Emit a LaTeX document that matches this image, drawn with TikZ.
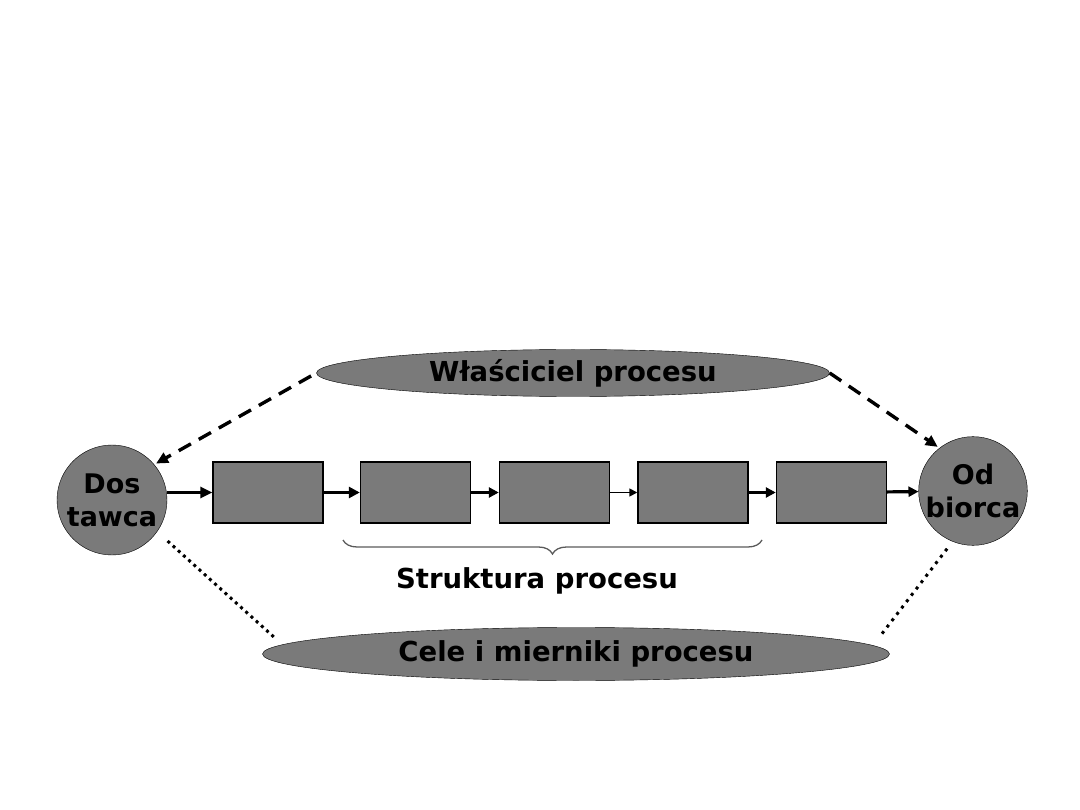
\documentclass[tikz,border=0pt]{standalone}
\usepackage{fontspec}
\setmainfont{DejaVu Sans}
\usepackage{tikz}
\usetikzlibrary{arrows.meta, calc, shapes.geometric, decorations.pathreplacing}
\definecolor{szary}{RGB}{122,122,122}
\definecolor{tinta}{RGB}{0,0,0}
\definecolor{klamra}{RGB}{90,90,90}

\begin{document}
\begin{tikzpicture}[x=1pt, y=-1pt, >={Triangle[length=12pt, width=11pt]},
  font=\fontsize{27.5}{33}\selectfont\bfseries, text=tinta,
  owal/.style={ellipse, draw, thin, fill=szary, inner sep=0pt},
  kolo/.style={circle, draw, thin, fill=szary, minimum size=110pt, inner sep=0pt, align=center,
    font=\fontsize{27}{33}\selectfont\bfseries},
  krok/.style={draw, fill=szary, line width=1.4pt, minimum width=110pt, minimum height=61pt},
  kropki/.style={line width=3pt, dash pattern=on 3pt off 4pt}]
  \useasboundingbox (0,0) rectangle (1080,810);
  \node[owal, minimum width=513pt, minimum height=47pt] (owner) at (573,373) {Właściciel procesu};
  \node[owal, minimum width=627pt, minimum height=53pt] (goals) at (576,654) {Cele i mierniki procesu};
  \node[kolo] (supplier) at (112,500) {Dos\\tawca};
  \node[kolo, minimum size=106pt] (customer) at (973,491) {Od\\biorca};
  \foreach \n/\x in {1/268, 2/415.5, 3/554.5, 4/693, 5/831.5}
    \node[krok] (p\n) at (\x,492.5) {};
  \draw[->, line width=3.6pt] (supplier.east |- p1.west) -- (p1.west);
  \foreach \a/\b/\w/\h in {p1/p2/3.6/11, p2/p3/3/10, p3/p4/1.6/8, p4/p5/3.2/10}
    \draw[->, line width=\w pt, >={Triangle[length=\h pt, width=\h pt]}] (\a) -- (\b);
  \draw[->, line width=3.2pt, >={Triangle[length=10pt, width=10pt]}] (p5) -- (customer);
  \draw[->, line width=3.4pt, dash pattern=on 14pt off 9pt, shorten <=6pt, shorten >=2pt] (owner.west) -- (supplier.40);
  \draw[->, line width=3.4pt, dash pattern=on 14pt off 9pt, shorten >=2pt] (owner.east) -- (customer.128);
  \coordinate (dotL) at (275,638);
  \coordinate (dotR) at (881,635);
  \draw[kropki, shorten <=14pt] (supplier.-35) -- (dotL);
  \draw[kropki, dash pattern=on 3pt off 5pt, shorten <=9pt] (customer.-112) -- (dotR);
  \coordinate (bl) at (343,540);
  \coordinate (br) at (762,540);
  \draw[klamra, line width=1.3pt, decorate, decoration={brace, mirror, amplitude=14pt}] (bl) -- (br);
  \node (structure) at (537,581) {Struktura procesu};
\end{tikzpicture}
\end{document}
